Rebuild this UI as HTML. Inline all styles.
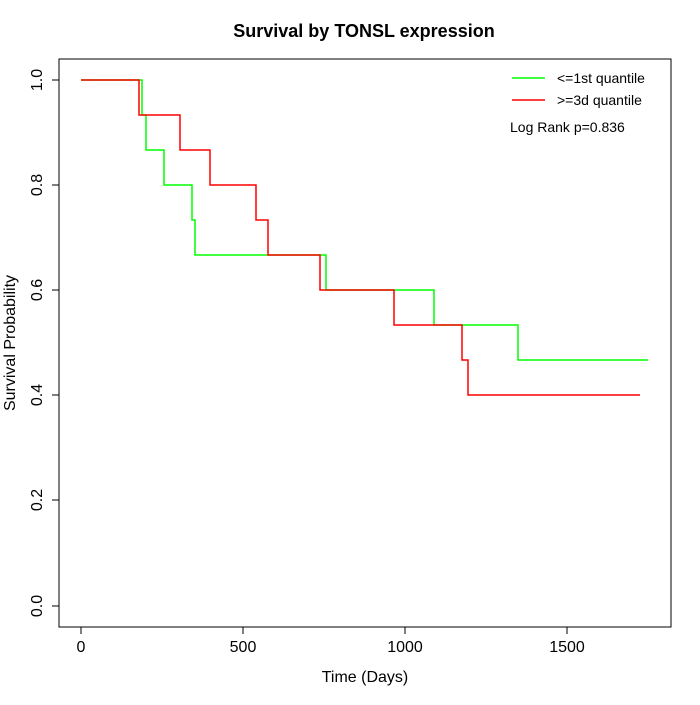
<!DOCTYPE html>
<html><head><style>body{margin:0;background:#fff}</style></head><body>
<svg width="700" height="700" xmlns="http://www.w3.org/2000/svg" font-family="Liberation Sans, sans-serif">
<rect width="700" height="700" fill="#fff"/>
<text x="364" y="37" font-size="18" font-weight="bold" text-anchor="middle">Survival by TONSL expression</text>
<rect x="59" y="59" width="612" height="568" fill="none" stroke="#000"/>
<g stroke="#000">
<line x1="81" y1="627" x2="567" y2="627"/>
<line x1="81" y1="627" x2="81" y2="634"/><line x1="243" y1="627" x2="243" y2="634"/><line x1="405" y1="627" x2="405" y2="634"/><line x1="567" y1="627" x2="567" y2="634"/>
<line x1="59" y1="80" x2="59" y2="606"/>
<line x1="52" y1="80" x2="59" y2="80"/><line x1="52" y1="185" x2="59" y2="185"/><line x1="52" y1="290" x2="59" y2="290"/><line x1="52" y1="395" x2="59" y2="395"/><line x1="52" y1="500" x2="59" y2="500"/><line x1="52" y1="606" x2="59" y2="606"/>
</g>
<g font-size="16" text-anchor="middle">
<text x="81" y="652">0</text><text x="243" y="652">500</text><text x="405" y="652">1000</text><text x="567" y="652">1500</text>
<text x="365" y="682">Time (Days)</text>
<g transform="rotate(-90)">
<text x="-80" y="42">1.0</text><text x="-185" y="42">0.8</text><text x="-290" y="42">0.6</text><text x="-395" y="42">0.4</text><text x="-500" y="42">0.2</text><text x="-606" y="42">0.0</text>
<text x="-343" y="15">Survival Probability</text>
</g>
</g>
<polyline fill="none" stroke="#00ff00" stroke-width="1.5" points="81,80 142,80 142,115 146,115 146,150 164,150 164,185 192,185 192,220 195,220 195,255 326,255 326,290 434,290 434,325 518,325 518,360 648,360"/>
<polyline fill="none" stroke="#ff0000" stroke-width="1.5" points="81,80 139,80 139,115 180,115 180,150 210,150 210,185 256,185 256,220 268,220 268,255 320,255 320,290 394,290 394,325 462,325 462,360 468,360 468,395 640,395"/>
<line x1="512" y1="78" x2="545" y2="78" stroke="#00ff00" stroke-width="1.5"/>
<line x1="512" y1="100" x2="545" y2="100" stroke="#ff0000" stroke-width="1.5"/>
<g font-size="14"><text x="557" y="83">&lt;=1st quantile</text><text x="557" y="105">&gt;=3d quantile</text><text x="510" y="132">Log Rank p=0.836</text></g>
</svg>
</body></html>
